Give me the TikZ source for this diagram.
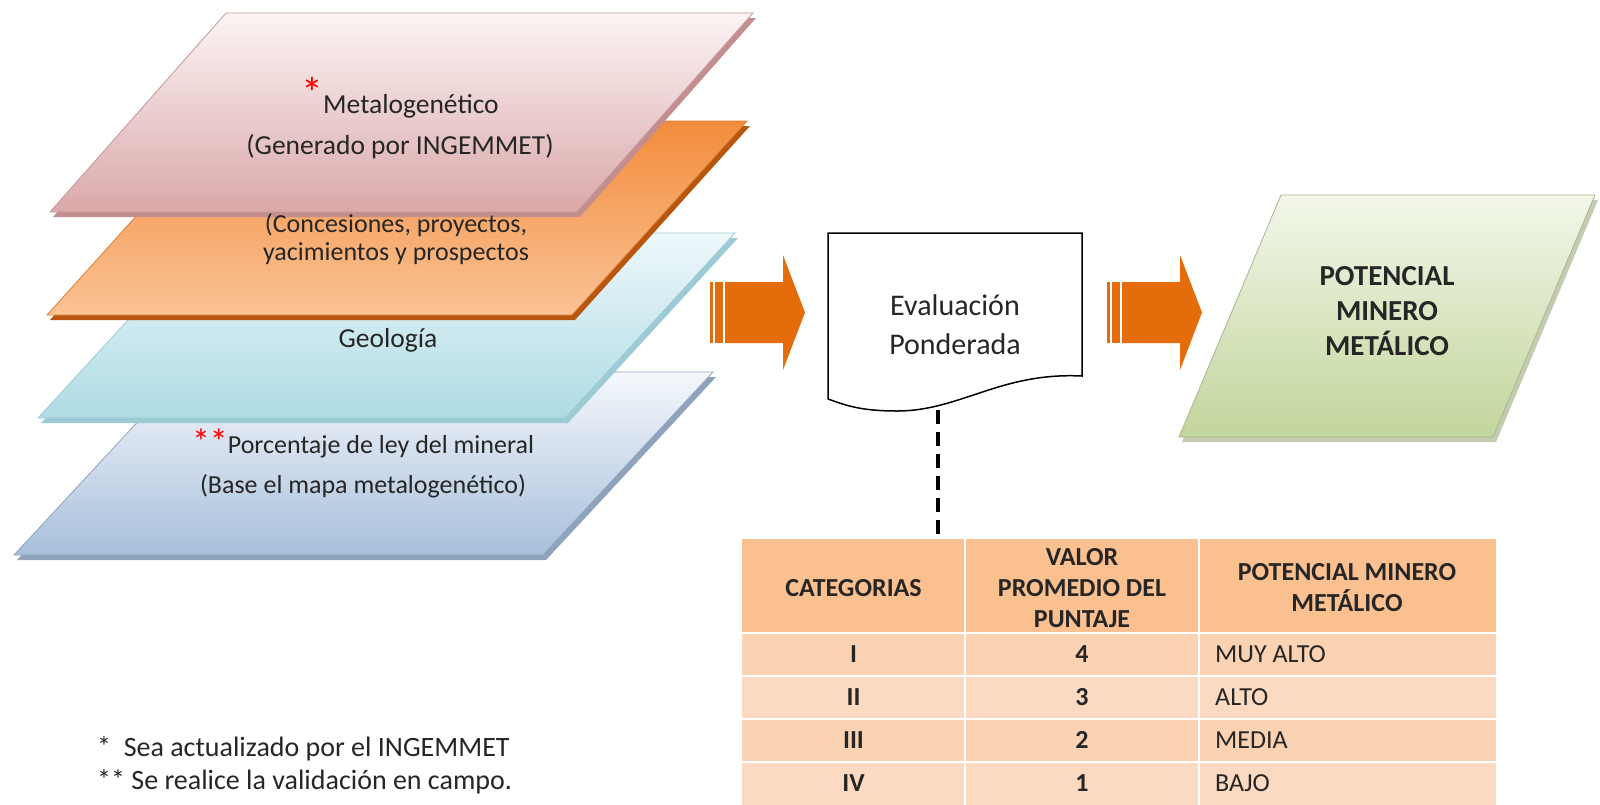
\documentclass[tikz,border=0pt]{standalone}
\usepackage{fontspec}
\setmainfont{Carlito}
\usetikzlibrary{positioning}

\definecolor{txtgray}{HTML}{262626}
\definecolor{arroworange}{HTML}{E46C0A}
\definecolor{pinktop}{HTML}{FCF4F4}
\definecolor{pinkbot}{HTML}{DAA8A9}
\definecolor{pinkedge}{HTML}{C48E8F}
\definecolor{orangetop}{HTML}{F28C3C}
\definecolor{orangebot}{HTML}{FBC396}
\definecolor{orangeedge}{HTML}{B8560E}
\definecolor{cyantop}{HTML}{EEF8FB}
\definecolor{cyanbot}{HTML}{AEDBE4}
\definecolor{cyanedge}{HTML}{9CCAD5}
\definecolor{bluetop}{HTML}{F5F8FC}
\definecolor{bluebot}{HTML}{A8BFDB}
\definecolor{blueedge}{HTML}{8FA3BD}
\definecolor{greentop}{HTML}{F3F7EA}
\definecolor{greenbot}{HTML}{C1D59B}
\definecolor{greenedge}{HTML}{A9B58F}
\definecolor{tabhead}{HTML}{FAC090}
\definecolor{tabrowa}{HTML}{FBD3B3}
\definecolor{tabrowb}{HTML}{FCDAC1}

\begin{document}
\begin{tikzpicture}[x=1pt,y=-1pt,
    layertext/.style={font=\fontsize{27.5}{41}\selectfont, text=txtgray, align=center, inner sep=0pt},
    pinklayer/.style={top color=pinktop, bottom color=pinkbot, draw=pinkbot!90!black, line width=0.8pt},
    orangelayer/.style={top color=orangetop, bottom color=orangebot, draw=orangetop!90!black, line width=0.8pt},
    cyanlayer/.style={top color=cyantop, bottom color=cyanbot, draw=cyanedge, line width=0.8pt},
    bluelayer/.style={top color=bluetop, bottom color=bluebot, draw=blueedge, line width=0.8pt},
    greenbox/.style={top color=greentop, bottom color=greenbot, draw=greenedge, line width=0.8pt},
    docshape/.style={draw=black, line width=1.5pt, fill=white},
    greentext/.style={font=\bfseries\fontsize{29}{35}\selectfont, text=txtgray, align=center, inner sep=0pt},
    evaltext/.style={font=\fontsize{30}{39}\selectfont, text=txtgray, align=center, inner sep=0pt},
    cellhead/.style={font=\bfseries\fontsize{26}{31}\selectfont, text=txtgray, align=center, inner sep=0pt},
    cellbold/.style={font=\bfseries\fontsize{26}{30}\selectfont, text=txtgray, inner sep=0pt},
    cellplain/.style={font=\fontsize{26}{30}\selectfont, text=txtgray, inner sep=0pt, anchor=west},
    notetext/.style={font=\fontsize{28}{30}\selectfont, text=txtgray, anchor=west, inner sep=0pt}]

\useasboundingbox (0,0) rectangle (1600,804);

% stacked map layers, bottom one first
\fill[blueedge, xshift=3pt, yshift=-5pt] (184,372) -- ++(529,0) -- ++(-170,183) -- ++(-529,0) -- cycle;
\path[bluelayer] (184,372) -- ++(529,0) -- ++(-170,183) -- ++(-529,0) -- cycle;
\fill[cyanedge, xshift=3pt, yshift=-5pt] (208,233) -- ++(527,0) -- ++(-170,185) -- ++(-527,0) -- cycle;
\path[cyanlayer] (208,233) -- ++(527,0) -- ++(-170,185) -- ++(-527,0) -- cycle;
\fill[orangeedge, xshift=3pt, yshift=-5pt] (222,121) -- ++(525,0) -- ++(-175,194) -- ++(-525,0) -- cycle;
\path[orangelayer] (222,121) -- ++(525,0) -- ++(-175,194) -- ++(-525,0) -- cycle;
\fill[pinkedge, xshift=3pt, yshift=-5pt] (226,13) -- ++(527,0) -- ++(-176,199) -- ++(-527,0) -- cycle;
\path[pinklayer] (226,13) -- ++(527,0) -- ++(-176,199) -- ++(-527,0) -- cycle;

\node[layertext] (metal) at (400,127) {\textcolor{red}{\raisebox{5pt}[0pt][0pt]{\fontsize{44}{44}\selectfont *}}Metalogenético\\(Generado por INGEMMET)};
\node[layertext, font=\fontsize{26}{28}\selectfont] (concesion) at (396,239) {(Concesiones, proyectos,\\yacimientos y prospectos};
\node[layertext] (geologia) at (388,340) {Geología};
\node[layertext, font=\fontsize{26}{40}\selectfont] (porcentaje) at (363,467) {\textcolor{red}{\raisebox{-1pt}[0pt][0pt]{\fontsize{36}{36}\selectfont **}}Porcentaje de ley del mineral\\(Base el mapa metalogenético)};

% striped block arrows
\foreach \ax in {710,1107} {
  \fill[arroworange] (\ax,282) rectangle ({\ax+3},343);
  \fill[arroworange] ({\ax+5},282) rectangle ({\ax+13},343);
  \fill[arroworange] ({\ax+15},282) -- ({\ax+73},282) -- ({\ax+73},255) -- ({\ax+95},312.5)
     -- ({\ax+73},370) -- ({\ax+73},343) -- ({\ax+15},343) -- cycle;
}

% document shape
\draw[docshape] (828,233) -- (1082,233) -- (1082,376)
   .. controls (1000,372) and (960,411) .. (897,411)
   .. controls (860,411) and (845,405) .. (828,399) -- cycle;
\node[evaltext] (eval) at (955,325) {Evaluación\\Ponderada};
\coordinate (evalbot) at (938,410);

% result
\fill[greenedge!70, xshift=3pt, yshift=-5pt] (1281,195) -- ++(314,0) -- ++(-102,242) -- ++(-314,0) -- cycle;
\path[greenbox] (1281,195) -- ++(314,0) -- ++(-102,242) -- ++(-314,0) -- cycle;
\node[greentext] (potencial) at (1387,311) {POTENCIAL\\MINERO\\METÁLICO};

% table
\fill[tabhead] (742,539) rectangle (1496,633);
\foreach \ytop/\fillc in {633/tabrowa, 676/tabrowb, 719/tabrowa, 762/tabrowb}
  \fill[\fillc] (742,\ytop) rectangle ++(754,43);
\foreach \xl in {965,1199}
  \draw[white, line width=2.5pt] (\xl,539) -- (\xl,805);
\foreach \yl in {633,676,719,762}
  \draw[white, line width=2.5pt] (742,\yl) -- (1496,\yl);
\coordinate (tabtop) at (938,539);
\draw[line width=3.5pt, dash pattern=on 14pt off 8pt] (evalbot) -- (tabtop);

\node[cellhead] (hcat) at (853.5,588) {CATEGORIAS};
\node[cellhead] (hval) at (1082,588) {VALOR\\PROMEDIO DEL\\PUNTAJE};
\node[cellhead] (hpot) at (1347,588) {POTENCIAL MINERO\\METÁLICO};
\foreach \ytop/\cat/\val/\pot [count=\i] in {633/I/4/MUY ALTO, 676/II/3/ALTO, 719/III/2/MEDIA, 762/IV/1/BAJO} {
  \node[cellbold] (cat\i) at (853.5,{\ytop+21}) {\cat};
  \node[cellbold] (val\i) at (1082,{\ytop+21}) {\val};
  \node[cellplain] (pot\i) at (1215,{\ytop+21}) {\pot};
}

% notes
\node[notetext] (note1) at (97,749) {*~~Sea actualizado por el INGEMMET};
\node[notetext] (note2) at (97,782) {** Se realice la validación en campo.};
\end{tikzpicture}
\end{document}
